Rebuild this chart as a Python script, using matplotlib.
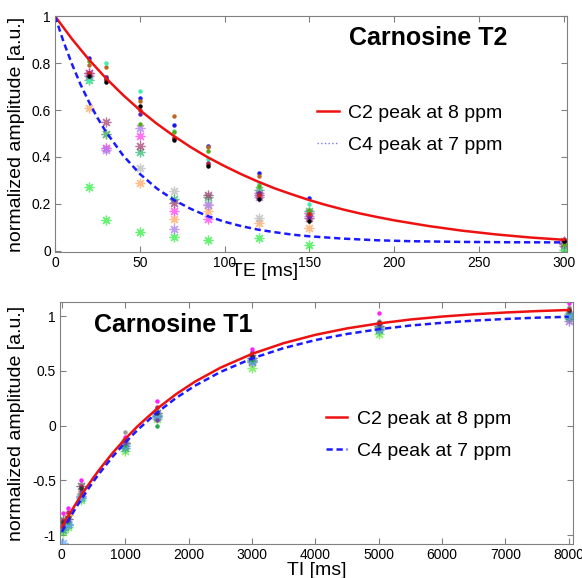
"""Carnosine T2 / T1 relaxation curves with per-subject data points."""
import matplotlib.pyplot as plt
from matplotlib.lines import Line2D

plt.rcParams['font.family'] = ['Liberation Sans', 'DejaVu Sans']

# ---- T2 panel data ----
TE = [20, 30, 50, 70, 90, 120, 150, 300]

# C2 peak (dots), one list per subject
t2_c2 = {
    '#1a1aee': [0.82, 0.733, 0.653, 0.537, 0.446, 0.332, 0.224, 0.045],
    '#bb6622': [0.79, 0.785, 0.64, 0.573, 0.443, 0.318, 0.160, 0.050],
    '#44eeaa': [0.725, 0.80, 0.68, 0.512, 0.39, 0.283, 0.200, 0.030],
    '#55aa11': [0.81, 0.74, 0.542, 0.505, 0.424, 0.276, 0.174, 0.030],
    '#6622aa': [0.76, 0.74, 0.583, 0.48, 0.375, 0.248, 0.144, 0.040],
    '#cc2222': [0.76, 0.73, 0.60, 0.48, 0.37, 0.236, 0.157, 0.045],
    '#000000': [0.745, 0.72, 0.618, 0.474, 0.36, 0.222, 0.128, 0.040],
}
# C4 peak (asterisks)
t2_c4 = {
    '#33ee44': [0.27, 0.13, 0.08, 0.057, 0.048, 0.053, 0.025, 0.005],
    '#ffaa66': [0.61, 0.50, 0.29, 0.137, 0.17, 0.12, 0.097, 0.030],
    '#bbbbbb': [0.75, 0.44, 0.355, 0.257, 0.20, 0.14, 0.160, 0.040],
    '#ff44ee': [0.76, 0.44, 0.488, 0.17, 0.135, 0.245, 0.160, 0.030],
    '#b07cf0': [0.745, 0.43, 0.525, 0.095, 0.195, 0.23, 0.150, 0.040],
    '#33bb77': [0.73, 0.50, 0.422, 0.22, 0.228, 0.26, 0.170, 0.020],
    '#aa4477': [0.76, 0.548, 0.447, 0.205, 0.24, 0.24, 0.140, 0.035],
}

# fitted curves
te_fit = [0, 10, 20, 30, 40, 50, 60, 70, 80, 90, 100, 110, 120, 130, 140,
          150, 160, 170, 180, 190, 200, 220, 240, 260, 280, 300]
t2_fit_c2 = [1.000, 0.903, 0.815, 0.736, 0.665, 0.600, 0.542, 0.490, 0.442,
             0.399, 0.361, 0.326, 0.294, 0.265, 0.240, 0.216, 0.195, 0.176,
             0.159, 0.144, 0.130, 0.106, 0.086, 0.070, 0.057, 0.047]
te_fit4 = [0, 5, 10, 15, 20, 25, 30, 40, 50, 60, 70, 80, 90, 100, 110, 120,
           130, 140, 150, 170, 190, 210, 240, 270, 300]
t2_fit_c4 = [1.000, 0.892, 0.796, 0.710, 0.635, 0.567, 0.508, 0.408, 0.328,
             0.266, 0.217, 0.179, 0.148, 0.124, 0.105, 0.090, 0.079, 0.069,
             0.062, 0.052, 0.045, 0.041, 0.038, 0.0365, 0.036]

# ---- T1 panel data ----
TI = [20, 100, 300, 1000, 1500, 3000, 5000, 8000]

t1_c2 = {
    '#999999': [-0.85, -0.80, -0.53, -0.06, 0.16, 0.66, 0.96, 1.08],
    '#aa3366': [-0.86, -0.79, -0.55, -0.14, 0.17, 0.67, 0.95, 1.07],
    '#22aa44': [-0.92, -0.88, -0.62, -0.18, 0.00, 0.60, 0.90, 1.04],
    '#7744aa': [-0.90, -0.86, -0.60, -0.16, 0.05, 0.62, 0.92, 1.05],
    '#333333': [-0.88, -0.83, -0.57, -0.12, 0.12, 0.64, 0.94, 1.06],
    '#ff22ff': [-0.80, -0.75, -0.50, -0.10, 0.23, 0.70, 1.03, 1.12],
}
t1_c4 = {
    '#ffaa44': [-0.88, -0.82, -0.62, -0.15, 0.10, 0.60, 0.90, 1.02],
    '#66ee44': [-0.97, -0.93, -0.68, -0.23, 0.06, 0.53, 0.84, 0.98],
    '#9966dd': [-0.93, -0.90, -0.64, -0.19, 0.08, 0.58, 0.88, 0.96],
    '#555555': [-0.86, -0.85, -0.55, -0.16, 0.12, 0.62, 0.91, 1.00],
    '#33aa88': [-0.95, -0.91, -0.66, -0.20, 0.09, 0.59, 0.87, 1.00],
    '#66aaff': [-1.07, -0.90, -0.65, -0.17, 0.10, 0.60, 0.89, 1.01],
}

ti_fit = [0, 100, 200, 300, 400, 500, 600, 800, 1000, 1200, 1500, 1800, 2100,
          2500, 3000, 3500, 4000, 4500, 5000, 5500, 6000, 6500, 7000, 7500, 8000]
t1_fit_c2 = [-0.930, -0.829, -0.733, -0.642, -0.556, -0.473, -0.395, -0.250,
             -0.120, -0.002, 0.154, 0.287, 0.402, 0.529, 0.656, 0.754, 0.830,
             0.889, 0.934, 0.970, 0.997, 1.018, 1.034, 1.047, 1.057]
t1_fit_c4 = [-0.970, -0.868, -0.771, -0.679, -0.591, -0.508, -0.430, -0.284,
             -0.154, -0.036, 0.119, 0.252, 0.365, 0.490, 0.614, 0.709, 0.782,
             0.838, 0.881, 0.915, 0.940, 0.960, 0.975, 0.987, 0.995]

RED = '#ee1111'
BLUE = '#1a1aff'
STAR = (8, 2, 0)

fig = plt.figure(figsize=(5.82, 5.78), dpi=100)
ax1 = fig.add_axes([0.0945, 0.564, 0.880, 0.408])
ax2 = fig.add_axes([0.103, 0.059, 0.882, 0.4185])


def style(ax):
    for sp in ax.spines.values():
        sp.set_color('#808080')
        sp.set_linewidth(0.8)
    ax.tick_params(direction='in', length=4, width=0.8, color='#808080',
                   top=True, right=True, labelsize=10, pad=3)


# ---- T2 ----
for c, vals in t2_c4.items():
    ax1.plot(TE, vals, ls='none', marker=STAR, ms=7, mew=0.9, color=c, alpha=0.75)
for c, vals in t2_c2.items():
    ax1.plot(TE, vals, ls='none', marker='o', ms=3.2, mew=0, color=c)
ax1.plot(te_fit, t2_fit_c2, color=RED, lw=1.8)
ax1.plot(te_fit4, t2_fit_c4, color=BLUE, lw=1.8, ls=(0, (2.5, 1.5)))
ax1.set_xlim(0, 302)
ax1.set_ylim(-0.005, 1.0)
ax1.set_xticks([0, 50, 100, 150, 200, 250, 300])
ax1.set_yticks([0, 0.2, 0.4, 0.6, 0.8, 1])
ax1.set_yticklabels(['0', '0.2', '0.4', '0.6', '0.8', '1'])
ax1.set_xlabel('TE [ms]', fontsize=14)
ax1.xaxis.set_label_coords(0.41, -0.045)
ax1.set_ylabel('normalized amplitude [a.u.]', fontsize=14)
ax1.yaxis.set_label_coords(-0.058, 0.5)
style(ax1)
ax1.text(0.729, 0.907, 'Carnosine T2', transform=ax1.transAxes,
         ha='center', va='center', fontsize=18, fontweight='bold')
h1 = [Line2D([], [], color=RED, lw=1.8),
      Line2D([], [], color=BLUE, lw=1.0, ls=':', alpha=0.6)]
ax1.legend(h1, ['C2 peak at 8 ppm', 'C4 peak at 7 ppm'], loc='upper left',
           bbox_to_anchor=(0.478, 0.70), frameon=False, fontsize=14,
           handlelength=1.1, handletextpad=0.5, labelspacing=0.75)

# ---- T1 ----
for c, vals in t1_c4.items():
    ax2.plot(TI, vals, ls='none', marker=STAR, ms=7, mew=0.9, color=c, alpha=0.75)
for c, vals in t1_c2.items():
    ax2.plot(TI, vals, ls='none', marker='o', ms=3.2, mew=0, color=c)
ax2.plot(ti_fit, t1_fit_c2, color=RED, lw=1.8)
ax2.plot(ti_fit, t1_fit_c4, color=BLUE, lw=1.8, ls=(0, (2.5, 1.5)))
ax2.set_xlim(-30, 8070)
ax2.set_ylim(-1.08, 1.13)
ax2.set_xticks([0, 1000, 2000, 3000, 4000, 5000, 6000, 7000, 8000])
ax2.set_yticks([-1, -0.5, 0, 0.5, 1])
ax2.set_yticklabels(['-1', '-0.5', '0', '0.5', '1'])
ax2.set_xlabel('TI [ms]', fontsize=14)
ax2.xaxis.set_label_coords(0.50, -0.075)
ax2.set_ylabel('normalized amplitude [a.u.]', fontsize=14)
ax2.yaxis.set_label_coords(-0.068, 0.5)
style(ax2)
ax2.text(0.22, 0.905, 'Carnosine T1', transform=ax2.transAxes,
         ha='center', va='center', fontsize=18, fontweight='bold')
h2 = [Line2D([], [], color=RED, lw=1.8),
      Line2D([], [], color=BLUE, lw=1.8, ls=(0, (2.5, 1.5)))]
ax2.legend(h2, ['C2 peak at 8 ppm', 'C4 peak at 7 ppm'], loc='upper left',
           bbox_to_anchor=(0.484, 0.625), frameon=False, fontsize=14,
           handlelength=1.1, handletextpad=0.5, labelspacing=0.75)

fig.savefig('out.png', dpi=100)
